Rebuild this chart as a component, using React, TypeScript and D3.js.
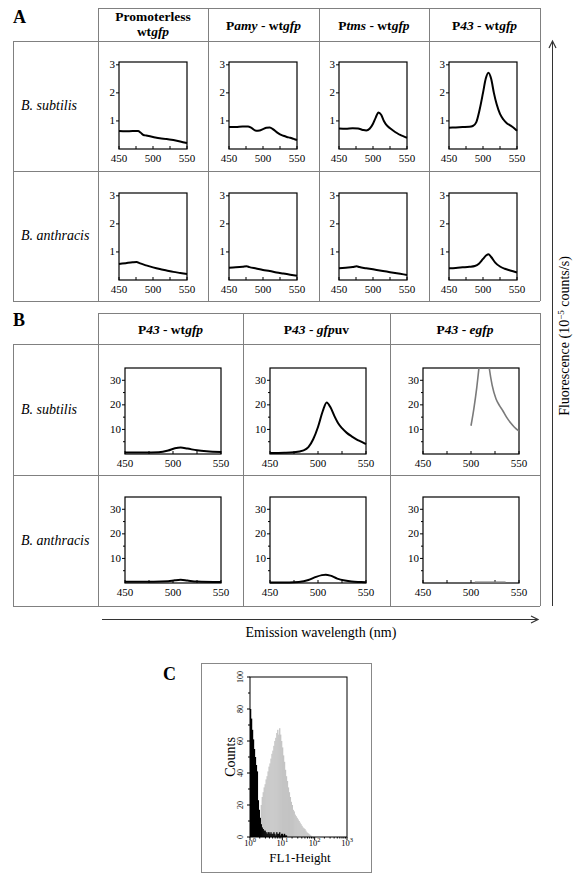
import React from "react";
import * as d3 from "d3";

type Pt = [number, number];
type Seg = [string, string];

const FONT = "'Liberation Serif', 'DejaVu Serif', 'Times New Roman', Times, serif";

// ---------- Panel A (y: 10^-5 counts/s, 0..3) ----------
const aYMax = 3.1;
const aYTicks = [1, 2, 3];
const wlTicks = [450, 500, 550];
const wlMinor = [475, 525];

const aSubPromoterless: Pt[] = [[450,0.64],[460,0.63],[470,0.64],[478,0.64],[482,0.58],[486,0.5],[490,0.48],[500,0.43],[510,0.38],[520,0.36],[530,0.32],[540,0.27],[550,0.21]];
const aSubPamy: Pt[] = [[450,0.78],[460,0.78],[470,0.8],[478,0.8],[483,0.75],[490,0.65],[495,0.66],[500,0.71],[505,0.76],[510,0.77],[515,0.7],[520,0.6],[525,0.52],[530,0.47],[535,0.43],[540,0.4],[545,0.36],[550,0.32]];
const aSubPtms: Pt[] = [[450,0.73],[460,0.72],[470,0.74],[478,0.73],[485,0.68],[490,0.66],[495,0.72],[500,0.9],[504,1.12],[508,1.3],[512,1.22],[516,1.0],[520,0.85],[525,0.74],[530,0.65],[535,0.57],[540,0.5],[545,0.45],[550,0.4]];
const aSubP43: Pt[] = [[450,0.76],[460,0.77],[470,0.78],[480,0.79],[485,0.82],[490,0.95],[495,1.4],[500,2.0],[504,2.5],[508,2.72],[512,2.5],[516,2.0],[520,1.6],[525,1.25],[530,1.05],[535,0.92],[540,0.84],[545,0.76],[550,0.65]];

const aAntPromoterless: Pt[] = [[450,0.57],[460,0.6],[470,0.63],[476,0.64],[480,0.6],[490,0.52],[500,0.45],[510,0.39],[520,0.34],[530,0.29],[540,0.25],[550,0.21]];
const aAntPamy: Pt[] = [[450,0.44],[460,0.45],[470,0.47],[476,0.49],[480,0.46],[490,0.41],[500,0.36],[510,0.32],[520,0.27],[530,0.23],[540,0.19],[550,0.15]];
const aAntPtms: Pt[] = [[450,0.42],[460,0.44],[470,0.46],[476,0.49],[480,0.46],[490,0.42],[500,0.38],[510,0.34],[520,0.3],[530,0.26],[540,0.22],[550,0.18]];
const aAntP43: Pt[] = [[450,0.42],[460,0.43],[470,0.45],[480,0.47],[488,0.5],[494,0.58],[500,0.75],[505,0.88],[508,0.92],[512,0.82],[518,0.62],[525,0.48],[532,0.4],[540,0.34],[550,0.27]];

const aHeaders: Seg[][][] = [
  [[["Promoterless", "b"]], [["wt", "b"], ["gfp", "bi"]]],
  [[["P", "b"], ["amy", "bi"], [" - wt", "b"], ["gfp", "bi"]]],
  [[["P", "b"], ["tms", "bi"], [" - wt", "b"], ["gfp", "bi"]]],
  [[["P", "b"], ["43", "bi"], [" - wt", "b"], ["gfp", "bi"]]],
];
const rowLabels = ["B. subtilis", "B. anthracis"];
const aRows: Pt[][][] = [
  [aSubPromoterless, aSubPamy, aSubPtms, aSubP43],
  [aAntPromoterless, aAntPamy, aAntPtms, aAntP43],
];

// ---------- Panel B (y: 0..35) ----------
const bYMax = 35;
const bYTicks = [10, 20, 30];
const bYMinor = [5, 15, 25];

const bSubWt: Pt[] = [[450,0.6],[470,0.6],[485,0.7],[495,1.4],[502,2.3],[508,2.6],[515,2.2],[525,1.5],[535,1.1],[550,0.8]];
const bSubUv: Pt[] = [[450,0.4],[465,0.5],[475,0.7],[485,1.5],[490,2.8],[495,6],[500,11],[505,17.5],[509,21],[513,19],[517,15.5],[521,12.5],[525,10.5],[530,8.6],[535,7.2],[540,6.0],[545,5.0],[550,4.0]];
const bSubE: Pt[] = [[500,11.5],[503,18.5],[506,27],[508,34],[510,40],[517,41],[519,35],[522,28],[526,22.5],[530,19.5],[533,17.7],[537,15],[541,12.8],[545,11],[550,9.3]];
const bAntWt: Pt[] = [[450,0.5],[480,0.5],[495,0.7],[502,1.1],[508,1.3],[515,1.0],[525,0.6],[550,0.4]];
const bAntUv: Pt[] = [[450,0.2],[470,0.2],[480,0.4],[490,1.2],[498,2.5],[504,3.2],[508,3.4],[513,3.0],[520,1.8],[528,1.0],[535,0.6],[545,0.4],[550,0.3]];
const bAntE: Pt[] = [[504,0.3],[520,0.3],[536,0.3]];

const bHeaders: Seg[][] = [
  [["P", "b"], ["43", "bi"], [" - wt", "b"], ["gfp", "bi"]],
  [["P", "b"], ["43", "bi"], [" - ", "b"], ["gfp", "bi"], ["uv", "b"]],
  [["P", "b"], ["43", "bi"], [" - ", "b"], ["egfp", "bi"]],
];
const bRows: Pt[][][] = [
  [bSubWt, bSubUv, bSubE],
  [bAntWt, bAntUv, bAntE],
];
const bIsGray = [false, false, true];

// ---------- Panel C (flow cytometry histogram) ----------
const binWidth = 0.03; // log10 units
const blackStart = 0;
const blackCounts = [80,74,67,61,55,50,45,41,23,17,12,8,6,5,4,4,3,2,3,3,2,3,2,2,3,2,1,3,2,2,3,1,2,2,1,2,1,1];
const grayStart = 0.3;
const grayCounts = [6,20,25,28,31,33,36,38,41,44,46,49,52,54,57,60,62,65,67,64,68,64,60,56,51,47,42,38,35,31,28,25,22,20,17,16,14,13,12,11,10,9,8,7,6,5.5,5,4,3,2.5,2,1.5,1,0.5];
const cYTicks = [0, 20, 40, 60, 80, 100];
const cXTicks = [1, 10, 100, 1000];

function Segs({ segs }: { segs: Seg[] }) {
  return (
    <>
      {segs.map((s, i) => (
        <tspan key={i} fontStyle={s[1] === "bi" ? "italic" : "normal"}>{s[0]}</tspan>
      ))}
    </>
  );
}

function Spectrum(props: {
  left: number; top: number; w: number; h: number; yMax: number;
  yTicks: number[]; yMinor: number[]; data: Pt[]; color: string; lw: number; id: string;
}) {
  const { left, top, w, h, yMax, yTicks, yMinor, data, color, lw, id } = props;
  const x = d3.scaleLinear().domain([450, 550]).range([0, w]);
  const y = d3.scaleLinear().domain([0, yMax]).range([h, 0]);
  const line = d3.line<Pt>().x((d) => x(d[0])).y((d) => y(d[1])).curve(d3.curveMonotoneX);
  return (
    <g transform={`translate(${left},${top})`}>
      <defs>
        <clipPath id={id}>
          <rect x={-2} y={0} width={w + 4} height={h + 2} />
        </clipPath>
      </defs>
      <rect x={0} y={0} width={w} height={h} fill="none" stroke="#000" strokeWidth={1.2} />
      {wlTicks.concat(wlMinor).map((t) => (
        <line key={"xt" + t} x1={x(t)} x2={x(t)} y1={h} y2={h - 3} stroke="#000" strokeWidth={1} />
      ))}
      {wlTicks.map((t) => (
        <text key={"xl" + t} x={x(t)} y={h + 12.5} textAnchor="middle" fontSize={11}>{t}</text>
      ))}
      {yTicks.map((t) => (
        <line key={"yt" + t} x1={-3} x2={0} y1={y(t)} y2={y(t)} stroke="#000" strokeWidth={1} />
      ))}
      {yMinor.map((t) => (
        <line key={"ym" + t} x1={-2} x2={0} y1={y(t)} y2={y(t)} stroke="#000" strokeWidth={1} />
      ))}
      {yTicks.map((t) => (
        <text key={"yl" + t} x={-4} y={y(t) + 3.5} textAnchor="end" fontSize={11}>{t}</text>
      ))}
      <path d={line(data) || ""} fill="none" stroke={color} strokeWidth={lw} strokeLinejoin="round" clipPath={`url(#${id})`} />
    </g>
  );
}

function Histogram() {
  const L = 250, R = 347, T = 677, B = 837;
  const x = d3.scaleLog().domain([1, 1000]).range([L, R]);
  const y = d3.scaleLinear().domain([0, 100]).range([B, T]);
  const bar = (start: number, i: number, v: number, fill: string, key: string) => {
    const x0 = x(Math.pow(10, start + i * binWidth));
    const x1 = x(Math.pow(10, start + (i + 1) * binWidth));
    return <rect key={key} x={x0} y={y(v)} width={x1 - x0 + 0.3} height={B - y(v)} fill={fill} />;
  };
  const yMinor = d3.range(0, 101, 10);
  const xMinor: number[] = [];
  [1, 10, 100].forEach((d) => { for (let k = 2; k < 10; k++) xMinor.push(d * k); });
  return (
    <g>
      <rect x={201.5} y={663.5} width={170} height={209} fill="none" stroke="#888" strokeWidth={1} />
      <text x={163} y={680} fontSize={18} fontWeight="bold">C</text>
      {grayCounts.map((v, i) => bar(grayStart, i, v, "#c4c4c4", "g" + i))}
      {blackCounts.map((v, i) => bar(blackStart, i, v, "#000", "b" + i))}
      <rect x={L} y={T} width={R - L} height={B - T} fill="none" stroke="#000" strokeWidth={1} />
      {yMinor.map((t) => (
        <line key={"cym" + t} x1={L - (t % 20 === 0 ? 3 : 2)} x2={L} y1={y(t)} y2={y(t)} stroke="#000" />
      ))}
      {cYTicks.map((t) => (
        <text key={"cyl" + t} transform={`translate(${243},${y(t)}) rotate(-90)`} textAnchor="middle" fontSize={8}>{t}</text>
      ))}
      {cXTicks.map((t) => (
        <line key={"cxt" + t} x1={x(t)} x2={x(t)} y1={B} y2={B + 3} stroke="#000" />
      ))}
      {xMinor.map((t) => (
        <line key={"cxm" + t} x1={x(t)} x2={x(t)} y1={B} y2={B + 1.5} stroke="#000" />
      ))}
      {cXTicks.map((t) => (
        <text key={"cxl" + t} x={x(t)} y={846} textAnchor="middle" fontSize={8.5}>
          10<tspan dy={-4} fontSize={6.5}>{Math.round(Math.log10(t))}</tspan>
        </text>
      ))}
      <text transform={`translate(235,757) rotate(-90)`} textAnchor="middle" fontSize={14}>Counts</text>
      <text x={300} y={862} textAnchor="middle" fontSize={13}>FL1-Height</text>
    </g>
  );
}

export default function App() {
  const grid = "#808080";
  const aCols = [98, 208, 319, 429, 540];
  const aRowsY = [41, 171, 301];
  const aPlotLeft = [119, 229, 339, 449];
  const aPlotTop = [62, 193];
  const bCols = [98, 243, 390, 540];
  const bRowsY = [344, 475, 606];
  const bPlotLeft = [125, 270, 423];
  const bPlotTop = [368, 497];
  const rowLabelYA = [110, 240];
  const rowLabelYB = [414, 545];

  return (
    <svg width={583} height={879} style={{ position: "absolute", left: 0, top: 0, background: "#fff", fontFamily: FONT }}>
      <rect x={0} y={0} width={583} height={879} fill="#fff" />
      {/* Panel A table */}
      <text x={13} y={23} fontSize={18} fontWeight="bold">A</text>
      <line x1={98} x2={540} y1={8.5} y2={8.5} stroke={grid} />
      {aRowsY.map((yy) => (
        <line key={"ah" + yy} x1={13} x2={540} y1={yy + 0.5} y2={yy + 0.5} stroke={grid} />
      ))}
      <line x1={13.5} x2={13.5} y1={41} y2={301} stroke={grid} />
      {aCols.map((xx) => (
        <line key={"av" + xx} x1={xx + 0.5} x2={xx + 0.5} y1={8} y2={301} stroke={grid} />
      ))}
      {aHeaders.map((lines, ci) => {
        const cx = (aCols[ci] + aCols[ci + 1]) / 2;
        return lines.length === 2 ? (
          <g key={"ahd" + ci}>
            <text x={cx} y={21} textAnchor="middle" fontSize={13.5} fontWeight="bold" style={{ whiteSpace: "pre" }}><Segs segs={lines[0]} /></text>
            <text x={cx} y={36} textAnchor="middle" fontSize={13.5} fontWeight="bold" style={{ whiteSpace: "pre" }}><Segs segs={lines[1]} /></text>
          </g>
        ) : (
          <text key={"ahd" + ci} x={cx} y={30} textAnchor="middle" fontSize={13.5} fontWeight="bold" style={{ whiteSpace: "pre" }}><Segs segs={lines[0]} /></text>
        );
      })}
      {rowLabels.map((l, ri) => (
        <text key={"arl" + ri} x={21} y={rowLabelYA[ri]} fontSize={14} fontStyle="italic">{l}</text>
      ))}
      {aRows.map((row, ri) =>
        row.map((data, ci) => (
          <Spectrum key={`a${ri}${ci}`} id={`ca${ri}${ci}`} left={aPlotLeft[ci]} top={aPlotTop[ri]} w={68} h={87}
            yMax={aYMax} yTicks={aYTicks} yMinor={[]} data={data} color="#000" lw={2} />
        ))
      )}

      {/* Panel B table */}
      <text x={13} y={326} fontSize={18} fontWeight="bold">B</text>
      <line x1={98} x2={540} y1={313.5} y2={313.5} stroke={grid} />
      {bRowsY.map((yy) => (
        <line key={"bh" + yy} x1={13} x2={540} y1={yy + 0.5} y2={yy + 0.5} stroke={grid} />
      ))}
      <line x1={13.5} x2={13.5} y1={344} y2={606} stroke={grid} />
      {bCols.map((xx) => (
        <line key={"bv" + xx} x1={xx + 0.5} x2={xx + 0.5} y1={313} y2={606} stroke={grid} />
      ))}
      {bHeaders.map((segs, ci) => (
        <text key={"bhd" + ci} x={(bCols[ci] + bCols[ci + 1]) / 2} y={334} textAnchor="middle" fontSize={13.5} fontWeight="bold" style={{ whiteSpace: "pre" }}>
          <Segs segs={segs} />
        </text>
      ))}
      {rowLabels.map((l, ri) => (
        <text key={"brl" + ri} x={21} y={rowLabelYB[ri]} fontSize={14} fontStyle="italic">{l}</text>
      ))}
      {bRows.map((row, ri) =>
        row.map((data, ci) => (
          <Spectrum key={`b${ri}${ci}`} id={`cb${ri}${ci}`} left={bPlotLeft[ci]} top={bPlotTop[ri]} w={96} h={86}
            yMax={bYMax} yTicks={bYTicks} yMinor={bYMinor} data={data}
            color={bIsGray[ci] ? "#7a7a7a" : "#000"} lw={bIsGray[ci] ? 1.6 : 2} />
        ))
      )}

      {/* Axis arrows */}
      <line x1={102} x2={538} y1={619.5} y2={619.5} stroke="#333" strokeWidth={1} />
      <path d="M531,616 L538,619.5 L531,623" fill="none" stroke="#333" strokeWidth={1.2} />
      <text x={321} y={637} textAnchor="middle" fontSize={14}>Emission wavelength (nm)</text>
      <line x1={552.5} x2={552.5} y1={41} y2={606} stroke="#333" strokeWidth={1} />
      <path d="M549,48 L552.5,41 L556,48" fill="none" stroke="#333" strokeWidth={1.2} />
      <text transform="translate(569,336) rotate(-90)" textAnchor="middle" fontSize={14}>
        Fluorescence (10<tspan dy={-5} fontSize={9}>−5</tspan><tspan dy={5}> counts/s)</tspan>
      </text>

      <Histogram />
    </svg>
  );
}
